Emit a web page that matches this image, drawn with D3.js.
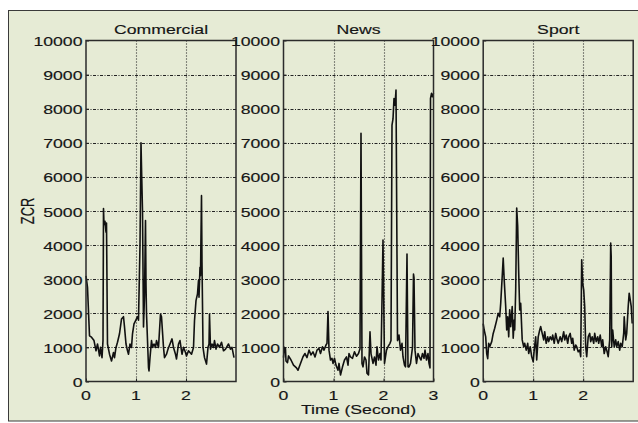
<!DOCTYPE html>
<html>
<head>
<meta charset="utf-8">
<script src="https://cdn.jsdelivr.net/npm/d3@7"></script>
<style>
  html, body { margin: 0; padding: 0; background: #ffffff; }
  svg { display: block; }
  text { font-family: "Liberation Sans", Arial, sans-serif; fill: #151515; }
</style>
</head>
<body>
<svg id="chart" width="638" height="423"></svg>
<script>
// Zero-crossing rate (ZCR) over time for three kinds of broadcast audio
const yTickValues = [0, 1000, 2000, 3000, 4000, 5000, 6000, 7000, 8000, 9000, 10000];
const panelTitles = ["Commercial", "News", "Sport"];
const panelXTicks = [[0, 1, 2], [0, 1, 2, 3], [0, 1, 2]];

const commercialTime = [0.00,0.03,0.07,0.11,0.16,0.20,0.23,0.27,0.29,0.32,0.34,0.35,0.36,0.38,0.40,0.41,0.43,0.47,0.51,0.55,0.57,0.60,0.63,0.67,0.71,0.75,0.77,0.80,0.83,0.85,0.88,0.91,0.93,0.96,0.99,1.03,1.05,1.08,1.10,1.11,1.13,1.15,1.17,1.19,1.20,1.21,1.25,1.26,1.28,1.31,1.33,1.36,1.39,1.41,1.45,1.49,1.51,1.55,1.57,1.61,1.64,1.68,1.72,1.75,1.79,1.81,1.85,1.88,1.91,1.92,1.95,1.99,2.01,2.05,2.11,2.15,2.17,2.20,2.23,2.25,2.26,2.28,2.29,2.31,2.32,2.34,2.35,2.37,2.41,2.44,2.46,2.47,2.49,2.52,2.55,2.57,2.60,2.63,2.67,2.71,2.75,2.79,2.81,2.85,2.89,2.92,2.96];
const commercialZcr = [3100,2760,1340,1300,1200,900,1100,750,1000,700,1200,5070,4600,4700,4380,4650,1100,800,600,850,700,1000,1150,1400,1830,1900,1600,1100,900,800,1100,1000,1400,1690,1780,1900,1800,4000,7000,6300,5000,1600,2500,4720,2860,2000,410,310,700,1200,1000,1100,1000,1200,1000,1980,1900,1000,700,800,950,1100,1250,1000,800,660,1100,1200,900,800,1000,850,750,900,800,1000,1780,2370,2570,2960,2470,3350,3100,5450,3500,1000,900,700,510,1000,1100,1980,950,1100,1000,1200,950,1100,1000,1150,900,950,1000,1100,950,1000,700];

const newsTime = [0.00,0.02,0.04,0.05,0.08,0.10,0.15,0.20,0.26,0.29,0.34,0.39,0.43,0.47,0.51,0.55,0.59,0.63,0.67,0.71,0.74,0.78,0.81,0.85,0.87,0.89,0.91,0.94,0.97,0.99,1.02,1.05,1.09,1.11,1.14,1.18,1.22,1.26,1.29,1.31,1.34,1.38,1.42,1.46,1.50,1.53,1.55,1.57,1.59,1.62,1.65,1.67,1.70,1.73,1.75,1.79,1.82,1.85,1.87,1.90,1.93,1.95,1.99,2.02,2.06,2.09,2.13,2.15,2.17,2.19,2.21,2.23,2.25,2.28,2.31,2.34,2.37,2.39,2.42,2.44,2.47,2.49,2.51,2.54,2.58,2.60,2.61,2.63,2.66,2.69,2.73,2.75,2.78,2.81,2.83,2.86,2.89,2.91,2.93,2.94,2.96,2.98,3.00];
const newsZcr = [700,1000,950,600,550,750,630,480,400,330,530,725,820,700,920,780,870,720,920,970,820,1020,920,1070,1120,2050,920,630,680,530,680,480,330,530,190,430,630,720,480,820,720,680,870,740,820,960,7280,530,430,720,630,240,190,1460,820,530,720,480,1020,630,820,630,4150,530,920,1020,1120,1200,7520,7700,8300,8100,8550,1200,1360,920,1120,720,480,430,3740,430,430,530,1000,3150,3050,920,530,820,680,630,820,680,920,630,820,530,400,8300,8450,8350,8450];

const sportTime = [0.00,0.02,0.05,0.07,0.09,0.11,0.13,0.17,0.20,0.23,0.27,0.30,0.33,0.35,0.38,0.40,0.42,0.45,0.47,0.49,0.51,0.53,0.55,0.58,0.60,0.62,0.63,0.65,0.67,0.69,0.71,0.73,0.75,0.78,0.81,0.83,0.86,0.89,0.91,0.94,0.97,1.00,1.02,1.05,1.07,1.10,1.13,1.15,1.18,1.21,1.23,1.26,1.29,1.31,1.34,1.37,1.39,1.42,1.45,1.47,1.50,1.54,1.57,1.61,1.63,1.66,1.69,1.71,1.74,1.77,1.79,1.82,1.85,1.87,1.90,1.93,1.95,1.97,1.99,2.01,2.03,2.05,2.07,2.10,2.13,2.15,2.18,2.21,2.23,2.26,2.29,2.31,2.34,2.37,2.39,2.42,2.45,2.47,2.50,2.53,2.55,2.56,2.57,2.59,2.62,2.65,2.67,2.70,2.73,2.75,2.78,2.81,2.82,2.85,2.87,2.90,2.92,2.94,2.96,2.98];
const sportZcr = [1700,1510,1310,820,670,1120,1020,1170,1410,1560,1800,2000,1900,2290,3080,3620,2980,2200,1510,1900,1310,2100,1610,2200,1270,1800,1510,2690,5090,4550,3180,2100,2290,1220,1020,1120,920,1120,820,1020,730,580,920,1310,630,1310,1510,1610,1410,1220,1460,1120,1310,1170,1310,1220,1360,1120,1410,1270,1120,1310,1170,1460,1220,1360,1120,1310,1410,1120,1270,920,1070,1020,870,920,730,3570,2880,2690,2200,1020,730,1310,1410,1170,1310,1120,1410,1170,1310,1120,1360,1020,1220,820,1020,920,730,1220,4060,3670,1020,1510,1020,1220,1020,1170,920,1120,1020,1410,1900,1220,1410,2200,2590,2400,2200,1700];

const seriesTimes = [commercialTime, newsTime, sportTime];
const seriesValues = [commercialZcr, newsZcr, sportZcr];

// layout
const plotLefts = [86, 283.5, 483.2];
const plotWidth = 150;
const plotTop = 40.5, plotBottom = 381.5;
const textScale = 1.38;   // glyphs are drawn horizontally widened
const fontSize = 12.8;

const svg = d3.select("#chart");

// outer panel background and frame
svg.append("rect")
  .attr("x", 8.5).attr("y", 10.5).attr("width", 640).attr("height", 410.5)
  .attr("fill", "#e6ebd5").attr("stroke", "#3a3a3a").attr("stroke-width", 1);

function wideText(g, x, y, str, anchor) {
  return g.append("text")
    .attr("transform", `translate(${x},${y}) scale(${textScale},1)`)
    .attr("text-anchor", anchor || "middle")
    .attr("font-size", fontSize)
    .attr("stroke", "#151515").attr("stroke-width", 0.15)
    .text(str);
}

const yScale = d3.scaleLinear().domain([0, 10000]).range([plotBottom, plotTop]);

panelTitles.forEach((title, i) => {
  const left = plotLefts[i];
  const xScale = d3.scaleLinear().domain([0, 3]).range([left, left + plotWidth]);
  const g = svg.append("g");

  // horizontal grid lines (dash-dot)
  g.append("g").selectAll("line")
    .data(yTickValues.filter(v => v > 0 && v < 10000))
    .join("line")
    .attr("x1", xScale(0)).attr("x2", xScale(3))
    .attr("y1", d => Math.round(yScale(d)) + 0.5).attr("y2", d => Math.round(yScale(d)) + 0.5)
    .attr("stroke", "#222").attr("stroke-width", 1)
    .attr("stroke-dasharray", "3,1.5,1,1.5");

  // vertical grid lines (dotted)
  g.append("g").selectAll("line")
    .data(panelXTicks[i].filter(v => v > 0 && v < 3))
    .join("line")
    .attr("x1", d => Math.round(xScale(d)) + 0.5).attr("x2", d => Math.round(xScale(d)) + 0.5)
    .attr("y1", plotTop).attr("y2", plotBottom)
    .attr("stroke", "#222").attr("stroke-width", 1.1)
    .attr("stroke-dasharray", "1,2");

  // left axis: inward ticks, labels added separately
  const yAxis = g.append("g")
    .attr("transform", `translate(${left},0)`)
    .call(d3.axisRight(yScale).tickValues(yTickValues).tickSize(3).tickFormat(""));
  yAxis.select(".domain").remove();
  yAxis.selectAll("line").attr("stroke", "#222");

  // bottom axis: inward ticks
  const xAxis = g.append("g")
    .attr("transform", `translate(0,${plotBottom})`)
    .call(d3.axisTop(xScale).tickValues(panelXTicks[i]).tickSize(3).tickFormat(""));
  xAxis.select(".domain").remove();
  xAxis.selectAll("line").attr("stroke", "#222");

  // tick labels
  yTickValues.forEach(v => {
    wideText(g, left - 3.5, yScale(v) + 5.5, String(v), "end");
  });
  panelXTicks[i].forEach(v => {
    wideText(g, xScale(v), 400, String(v), "middle");
  });

  // ZCR trace
  const pts = seriesTimes[i].map((t, k) => [t, seriesValues[i][k]]);
  const line = d3.line().x(d => xScale(d[0])).y(d => yScale(d[1]));
  g.append("path")
    .attr("d", line(pts))
    .attr("fill", "none").attr("stroke", "#111")
    .attr("stroke-width", 1.6).attr("stroke-linejoin", "round");

  // axes box
  g.append("rect")
    .attr("x", xScale(0)).attr("y", plotTop)
    .attr("width", plotWidth).attr("height", plotBottom - plotTop)
    .attr("fill", "none").attr("stroke", "#2b2b2b").attr("stroke-width", 1.5);

  // title
  wideText(g, left + plotWidth / 2, 33.5, title, "middle");
});

// axis titles
wideText(svg, plotLefts[1] + plotWidth / 2, 414, "Time (Second)", "middle");
svg.append("text")
  .attr("transform", `translate(33.5,211) rotate(-90) scale(1,${textScale})`)
  .attr("text-anchor", "middle")
  .attr("font-size", fontSize)
  .attr("stroke", "#151515").attr("stroke-width", 0.15)
  .text("ZCR");
</script>
</body>
</html>
